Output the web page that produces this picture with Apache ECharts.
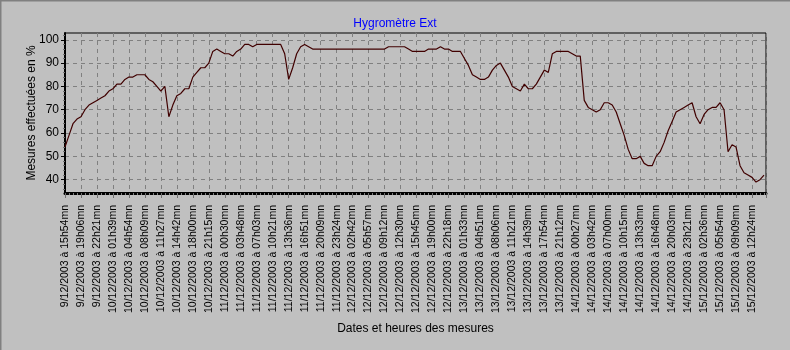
<!DOCTYPE html>
<html>
<head>
<meta charset="utf-8">
<script src="https://cdn.jsdelivr.net/npm/echarts@6/dist/echarts.min.js"></script>
<style>
html,body{margin:0;padding:0;background:#c0c0c0;}
#c{width:790px;height:350px;}
</style>
</head>
<body>
<div id="c"></div>
<script>
const title = 'Hygromètre Ext';
const yName = 'Mesures effectuées en %';
const xName = 'Dates et heures des mesures';

const labels = [
'9/12/2003 à 15h54mn','9/12/2003 à 19h06mn','9/12/2003 à 22h21mn',
'10/12/2003 à 01h39mn','10/12/2003 à 04h54mn','10/12/2003 à 08h09mn','10/12/2003 à 11h27mn',
'10/12/2003 à 14h42mn','10/12/2003 à 18h00mn','10/12/2003 à 21h15mn',
'11/12/2003 à 00h30mn','11/12/2003 à 03h48mn','11/12/2003 à 07h03mn','11/12/2003 à 10h21mn',
'11/12/2003 à 13h36mn','11/12/2003 à 16h51mn','11/12/2003 à 20h09mn','11/12/2003 à 23h24mn',
'12/12/2003 à 02h42mn','12/12/2003 à 05h57mn','12/12/2003 à 09h12mn','12/12/2003 à 12h30mn',
'12/12/2003 à 15h45mn','12/12/2003 à 19h00mn','12/12/2003 à 22h18mn',
'13/12/2003 à 01h33mn','13/12/2003 à 04h51mn','13/12/2003 à 08h06mn','13/12/2003 à 11h21mn',
'13/12/2003 à 14h39mn','13/12/2003 à 17h54mn','13/12/2003 à 21h12mn',
'14/12/2003 à 00h27mn','14/12/2003 à 03h42mn','14/12/2003 à 07h00mn','14/12/2003 à 10h15mn',
'14/12/2003 à 13h33mn','14/12/2003 à 16h48mn','14/12/2003 à 20h03mn','14/12/2003 à 23h21mn',
'15/12/2003 à 02h36mn','15/12/2003 à 05h54mn','15/12/2003 à 09h09mn','15/12/2003 à 12h24mn'
];

// humidity readings, 4 samples per labelled interval
const values = [
54,59,64,66,67,70,72,73,74,75,
76,78,79,81,81,83,84,84,85,85,
85,83,82,80,78,80,67,72,76,77,
79,79,84,86,88,88,90,95,96,95,
94,94,93,95,96,98,98,97,98,98,
98,98,98,98,98,94,83,88,94,97,
98,97,96,96,96,96,96,96,96,96,
96,96,96,96,96,96,96,96,96,96,
96,97,97,97,97,97,96,95,95,95,
95,96,96,96,97,96,96,95,95,95,
92,89,85,84,83,83,84,87,89,90,
87,84,80,79,78,81,79,79,81,84,
87,86,94,95,95,95,95,94,93,93,
74,71,70,69,70,73,73,72,69,64,
59,53,49,49,50,47,46,46,50,52,
56,61,65,69,70,71,72,73,67,64,
68,70,71,71,73,70,52,55,54,46,
43,42,41,39,40,42
];

const yTicks = [40,50,60,70,80,90,100];

const chart = echarts.init(document.getElementById('c'), null, {renderer:'canvas'});
const font = 'Liberation Sans, Arial, sans-serif';
chart.setOption({
  backgroundColor:'#c0c0c0',
  animation:false,
  title:{text:title, left:'center', top:13, textStyle:{color:'#0000ff', fontSize:12, fontWeight:'normal', fontFamily:font}},
  grid:{left:65, right:24, top:33, bottom:157, show:true, borderColor:'#000', borderWidth:1, backgroundColor:'transparent'},
  graphic:[
    {type:'line', shape:{x1:0,y1:0.5,x2:790,y2:0.5}, style:{stroke:'#808080', lineWidth:2}},
    {type:'line', shape:{x1:0.5,y1:0,x2:0.5,y2:350}, style:{stroke:'#808080', lineWidth:2}}
  ],
  xAxis:{
    type:'value', min:0, max:175.5, interval:4,
    name:xName, nameLocation:'middle', nameGap:130, nameMoveOverlap:false,
    nameTextStyle:{color:'#000', fontSize:12, fontFamily:font},
    axisLine:{lineStyle:{color:'#000', width:3}},
    axisTick:{show:true, length:5, lineStyle:{color:'#707070'}},
    minorTick:{show:true, splitNumber:4, length:2, lineStyle:{color:'#808080'}},
    axisLabel:{rotate:90, margin:12, color:'#000', fontSize:10.5, fontFamily:font,
      formatter:function(v){ const i = v/4; return Number.isInteger(i) && labels[i] ? labels[i] : ''; }},
    splitLine:{show:true, lineStyle:{color:'#808080', type:[4,4], width:1}}
  },
  yAxis:{
    type:'value', min:34.3, max:102.9,
    name:yName, nameLocation:'middle', nameGap:27, nameMoveOverlap:false,
    nameTextStyle:{color:'#000', fontSize:12, fontFamily:font},
    axisLine:{show:true, lineStyle:{color:'#000', width:2}},
    axisTick:{show:true, length:4, customValues:yTicks, lineStyle:{color:'#000'}},
    minorTick:{show:true, splitNumber:5, length:2, lineStyle:{color:'#707070'}},
    axisLabel:{customValues:yTicks, margin:6, color:'#000', fontSize:12, fontFamily:font},
    splitLine:{show:true, lineStyle:{color:'#808080', type:[4,4], width:1}}
  },
  series:[{
    type:'line', showSymbol:false, symbol:'none',
    data: values.map((v,i)=>[i,v]),
    lineStyle:{color:'#400000', width:1.2},
    clip:true
  }]
});
</script>
</body>
</html>
